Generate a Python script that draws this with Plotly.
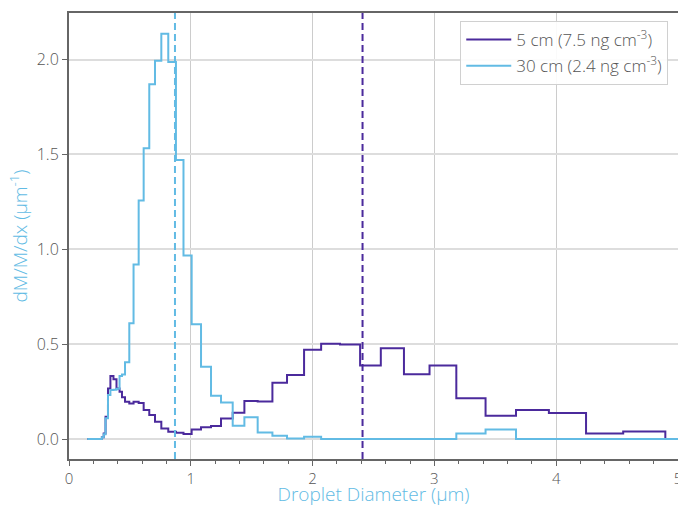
import plotly.graph_objects as go

# Bin edges (µm) shared by both series
bin_edges = [0.15, 0.27, 0.285, 0.30, 0.32, 0.34, 0.365, 0.39, 0.415, 0.435,
             0.46, 0.495, 0.53, 0.572, 0.613, 0.659, 0.706, 0.758, 0.815, 0.878,
             0.94, 1.007, 1.084, 1.166, 1.248, 1.344, 1.44, 1.549, 1.67, 1.79,
             1.93, 2.07, 2.225, 2.39, 2.56, 2.75, 2.96, 3.18, 3.42, 3.67,
             3.94, 4.245, 4.55, 4.896, 5.0]

# dM/M/dx per bin
dist_5cm = [0, 0.01, 0.03, 0.118, 0.267, 0.332, 0.315, 0.267, 0.25, 0.22,
            0.197, 0.188, 0.197, 0.19, 0.153, 0.127, 0.091, 0.056, 0.039, 0.033,
            0.027, 0.05, 0.062, 0.069, 0.109, 0.139, 0.2, 0.198, 0.297, 0.338,
            0.47, 0.502, 0.498, 0.387, 0.478, 0.341, 0.387, 0.215, 0.123, 0.153,
            0.137, 0.03, 0.04, 0]

dist_30cm = [0, 0.01, 0.025, 0.11, 0.232, 0.258, 0.26, 0.265, 0.332, 0.34,
             0.405, 0.61, 0.92, 1.257, 1.533, 1.87, 1.994, 2.136, 1.987, 1.47,
             0.967, 0.605, 0.381, 0.228, 0.193, 0.07, 0.115, 0.034, 0.017, 0.003,
             0.012, 0, 0, 0, 0, 0, 0, 0.03, 0.051, 0,
             0, 0, 0, 0]

series_names = ["5 cm (7.5 ng cm<sup>-3</sup>)", "30 cm (2.4 ng cm<sup>-3</sup>)"]
median_diam = [2.41, 0.87]  # dashed lines: 5 cm, 30 cm

x_ticks = [0, 1, 2, 3, 4, 5]
y_ticks = [0.0, 0.5, 1.0, 1.5, 2.0]

PURPLE = "#4b2a9c"
BLUE = "#62bbe4"
GRAY = "#555555"
FONT = "Open Sans"

fig = go.Figure()
for i, (name, vals, col) in enumerate([(series_names[0], dist_5cm, PURPLE),
                                       (series_names[1], dist_30cm, BLUE)]):
    fig.add_trace(go.Scatter(
        x=bin_edges, y=vals + [vals[-1]], mode="lines", name=name,
        legendgroup="g%d" % i,
        line=dict(color=col, width=2, shape="hv"),
    ))

for xv, col in zip(median_diam, [PURPLE, BLUE]):
    fig.add_shape(type="line", xref="x", yref="paper", x0=xv, x1=xv, y0=0, y1=1,
                  line=dict(color=col, width=2, dash="7px,4px"))

fig.update_layout(
    width=678, height=507,
    margin=dict(l=69, r=0, t=13, b=48, autoexpand=False),
    paper_bgcolor="white", plot_bgcolor="white",
    font=dict(family=FONT, color=GRAY, size=14, weight=300),
    showlegend=True,
    legend=dict(x=0.984, y=0.982, xanchor="right", yanchor="top",
                bgcolor="rgba(255,255,255,0.9)", bordercolor="#d0d0d0", borderwidth=1,
                itemwidth=45, tracegroupgap=1, traceorder="grouped",
                font=dict(family=FONT, size=17, color=GRAY, weight=300)),
)
fig.update_xaxes(
    range=[0, 5], tickvals=x_ticks, ticktext=[str(t) for t in x_ticks],
    automargin=False, ticklabeloverflow="allow",
    showgrid=True, gridcolor="#cccccc", gridwidth=1.2,
    showline=True, linecolor="#666666", linewidth=2, mirror=True,
    ticks="outside", ticklen=5, tickcolor="#666666", tickwidth=1.2,
    minor=dict(dtick=0.2, ticks="outside", ticklen=3, tickcolor="#666666", showgrid=False),
    tickfont=dict(size=15, color=GRAY, weight=300), zeroline=False,
    title=dict(text="Droplet Diameter (µm)", font=dict(size=19, color=BLUE, weight=300), standoff=7),
)
fig.update_yaxes(
    range=[-0.105, 2.245], tickvals=y_ticks, ticktext=["%.1f" % t for t in y_ticks],
    automargin=False, ticklabeloverflow="allow",
    showgrid=True, gridcolor="#dddddd", gridwidth=1.5,
    showline=True, linecolor="#666666", linewidth=2,
    ticks="outside", ticklen=5, tickcolor="#666666", tickwidth=1.2,
    tickfont=dict(size=16, color=GRAY, weight=300), zeroline=False,
    title=dict(text="dM/M/dx (µm<sup>-1</sup>)", font=dict(size=19, color=BLUE, weight=300), standoff=4),
)

fig.write_html("out.html", config={"displayModeBar": False},
               post_script="document.body.style.margin='0';document.body.style.overflow='hidden';")
